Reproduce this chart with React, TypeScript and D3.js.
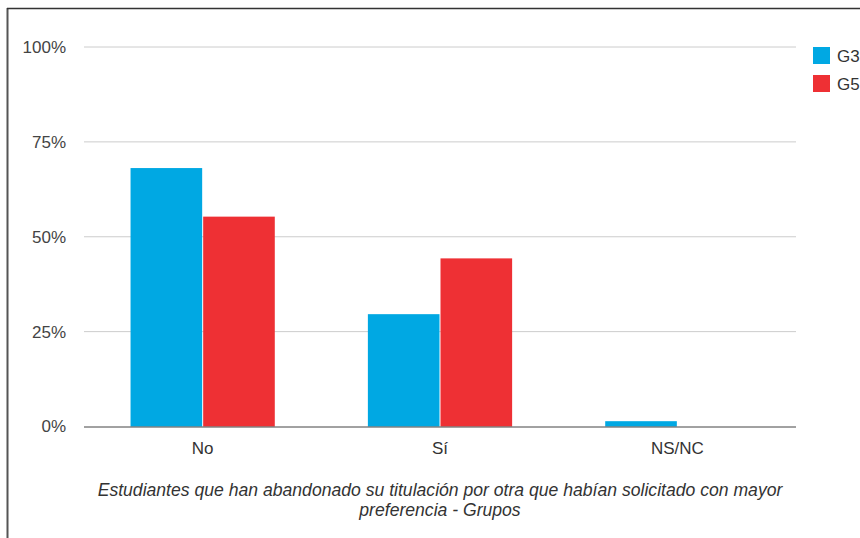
import React, { useEffect, useRef } from 'react';
import * as d3 from 'd3';

const categories = ['No', 'Sí', 'NS/NC'];
const seriesNames = ['G3', 'G5'];
const g3Values = [0.681, 0.296, 0.014];
const g5Values = [0.553, 0.443, 0];
const yTicks = [0, 0.25, 0.5, 0.75, 1];
const titleLines = [
  'Estudiantes que han abandonado su titulación por otra que habían solicitado con mayor',
  'preferencia - Grupos',
];

const colors = ['#00a8e3', '#ee3034'];
const FONT = 'Liberation Sans, Arial, sans-serif';

const App: React.FC = () => {
  const ref = useRef<SVGSVGElement>(null);

  useEffect(() => {
    if (!ref.current) return;
    const W = 860, H = 538;
    const margin = { top: 47, right: 64, bottom: 111.5, left: 84 };
    const width = W - margin.left - margin.right,
      height = H - margin.top - margin.bottom;

    const root = d3.select(ref.current);
    root.selectAll('*').remove();
    root.attr('width', W).attr('height', H);

    root.append('rect').attr('width', W).attr('height', H).attr('fill', '#fff');
    // frame of the screenshot
    root.append('line').attr('x1', 7.5).attr('x2', 7.5).attr('y1', 8).attr('y2', H)
      .attr('stroke', '#555').attr('stroke-width', 2);
    root.append('line').attr('x1', 7).attr('x2', W).attr('y1', 8.5).attr('y2', 8.5)
      .attr('stroke', '#333').attr('stroke-width', 1.5);

    const svg = root.append('g').attr('transform', `translate(${margin.left},${margin.top})`);

    const x = d3.scaleBand().domain(categories).range([0, width]).paddingInner(0).paddingOuter(0);
    const groupW = x.bandwidth() * 0.612;
    const x1 = d3.scaleBand().domain(seriesNames).range([0, groupW]).padding(0);
    const y = d3.scaleLinear().domain([0, 1]).range([height, 0]);

    svg.append('g')
      .selectAll('line')
      .data(yTicks.filter(t => t > 0))
      .enter()
      .append('line')
      .attr('x1', 0).attr('x2', width)
      .attr('y1', d => y(d)).attr('y2', d => y(d))
      .attr('stroke', '#cccccc').attr('stroke-width', 1);

    svg.append('g')
      .selectAll('text')
      .data(yTicks)
      .enter()
      .append('text')
      .attr('x', -18)
      .attr('y', d => y(d))
      .attr('dy', '0.35em')
      .attr('text-anchor', 'end')
      .attr('font-family', FONT)
      .attr('font-size', 17)
      .attr('fill', '#444')
      .text(d => d3.format('.0%')(d));

    const values = [g3Values, g5Values];
    seriesNames.forEach((s, si) => {
      svg.append('g')
        .selectAll('rect')
        .data(categories.map((c, i) => ({ c, v: values[si][i] })).filter(d => d.v > 0))
        .enter()
        .append('rect')
        .attr('x', d => (x(d.c) ?? 0) + (x.bandwidth() - groupW) / 2 + (x1(s) ?? 0) + 0.5)
        .attr('y', d => y(d.v))
        .attr('width', x1.bandwidth() - 1)
        .attr('height', d => height - y(d.v))
        .attr('fill', colors[si]);
    });

    svg.append('line')
      .attr('x1', 0).attr('x2', width)
      .attr('y1', height + 0.5).attr('y2', height + 0.5)
      .attr('stroke', '#444').attr('stroke-width', 1);

    svg.append('g')
      .selectAll('text')
      .data(categories)
      .enter()
      .append('text')
      .attr('x', d => (x(d) ?? 0) + x.bandwidth() / 2)
      .attr('y', height + 27)
      .attr('text-anchor', 'middle')
      .attr('font-family', FONT)
      .attr('font-size', 17)
      .attr('fill', '#333')
      .text(d => d);

    root.append('g')
      .selectAll('text')
      .data(titleLines)
      .enter()
      .append('text')
      .attr('x', margin.left + width / 2)
      .attr('y', (_, i) => 496 + i * 20)
      .attr('text-anchor', 'middle')
      .attr('font-family', FONT)
      .attr('font-size', 17.6)
      .attr('font-style', 'italic')
      .attr('fill', '#333')
      .text(d => d);

    const legend = root.append('g').attr('transform', `translate(813,47)`);
    seriesNames.forEach((s, i) => {
      legend.append('rect')
        .attr('x', 0).attr('y', i * 28)
        .attr('width', 17).attr('height', 17)
        .attr('fill', colors[i]);
      legend.append('text')
        .attr('x', 24).attr('y', i * 28 + 9)
        .attr('dy', '0.35em')
        .attr('font-family', FONT)
        .attr('font-size', 17)
        .attr('fill', '#333')
        .text(s);
    });
  }, []);

  return (
    <svg ref={ref} style={{ position: 'absolute', left: 0, top: 0, display: 'block' }} />
  );
};

export default App;
